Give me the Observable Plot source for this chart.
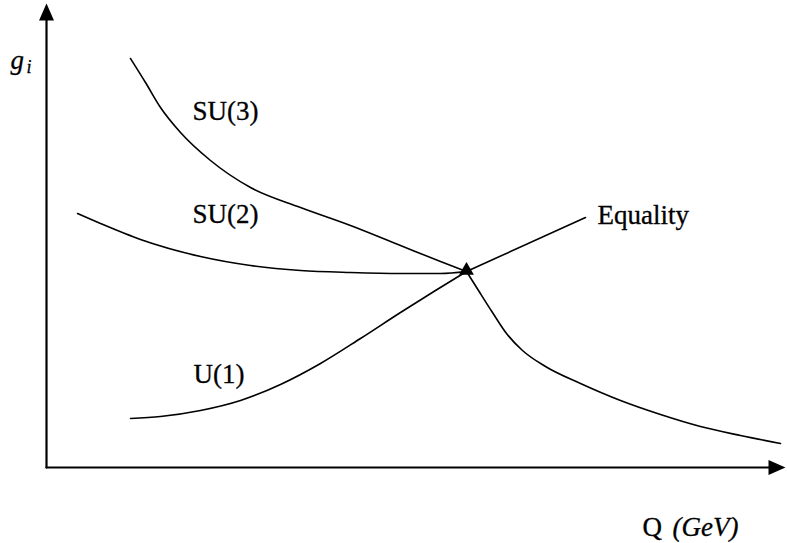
<!DOCTYPE html>
<html>
<head>
<meta charset="utf-8">
<script src="https://cdn.jsdelivr.net/npm/d3@7"></script>
<script src="https://cdn.jsdelivr.net/npm/@observablehq/plot@0.6"></script>
<style>
  html, body { margin: 0; padding: 0; background: #fff; }
  #chart svg { display: block; }
</style>
</head>
<body>
<div id="chart"></div>
<script>
// Values (arbitrary units; origin at the axes' corner)
const su3X = [84, 99, 114, 134, 164, 204, 254, 304, 354, 394, 420];
const su3Y = [409, 385, 360, 335, 307, 280, 260, 242, 222, 206, 196];

const su2X = [31, 54, 94, 154, 204, 254, 304, 354, 394, 420];
const su2Y = [254, 244, 228, 211, 202, 197, 195, 194, 194, 196];

const u1X = [84, 114, 154, 194, 234, 274, 314, 354, 389, 420];
const u1Y = [49, 51, 57, 67, 83, 104, 129, 155, 177, 196];

const unifiedX = [420, 432, 446, 460, 476, 499, 534, 574, 614, 654, 694, 734];
const unifiedY = [196, 177, 155, 134, 117, 101, 84, 67, 53, 41, 32, 24];

const equalityX = [420, 539];
const equalityY = [196, 250];
const meetX = [420];
const meetY = [197];

const axisEndX = 739;   // x-axis arrow tip
const axisEndY = 464;   // y-axis arrow tip

const labelText = ["SU(3)", "SU(2)", "U(1)", "Equality"];
const labelX = [146, 146, 147, 551];
const labelY = [348, 245, 85, 244];

const toPts = (xs, ys) => xs.map((x, i) => ({x, y: ys[i]}));

const serif = "Liberation Serif";

// arrowhead symbol: tip at the origin, pointing up
const arrowHead = {
  draw(ctx) {
    ctx.moveTo(0, 0);
    ctx.lineTo(-7.5, 17);
    ctx.lineTo(7.5, 17);
    ctx.closePath();
  }
};

const textOpts = {x: "x", y: "y", text: "t", textAnchor: "start", lineAnchor: "bottom",
  fontFamily: serif, fill: "black", stroke: "black", strokeWidth: 0.3};

const chart = Plot.plot({
  width: 787,
  height: 543,
  margin: 0,
  x: {domain: [-46, 741], range: [0, 787], axis: null},
  y: {domain: [-76, 467], range: [543, 0], axis: null},
  marks: [
    // axes
    Plot.line(toPts([0, 0], [0, axisEndY - 10]), {x: "x", y: "y", stroke: "black", strokeWidth: 2.2}),
    Plot.line(toPts([0, axisEndX - 10], [0, 0]), {x: "x", y: "y", stroke: "black", strokeWidth: 2.2}),
    Plot.dot([{x: 0, y: axisEndY}], {x: "x", y: "y", symbol: arrowHead, fill: "black", stroke: "none"}),
    Plot.dot([{x: axisEndX, y: 0}], {x: "x", y: "y", symbol: arrowHead, fill: "black", stroke: "none", rotate: 90}),
    // curves
    Plot.line(toPts(su3X, su3Y), {x: "x", y: "y", curve: "monotone-x", stroke: "black", strokeWidth: 1.6}),
    Plot.line(toPts(su2X, su2Y), {x: "x", y: "y", curve: "monotone-x", stroke: "black", strokeWidth: 1.6}),
    Plot.line(toPts(u1X, u1Y), {x: "x", y: "y", curve: "monotone-x", stroke: "black", strokeWidth: 1.6}),
    Plot.line(toPts(unifiedX, unifiedY), {x: "x", y: "y", curve: "monotone-x", stroke: "black", strokeWidth: 1.6}),
    Plot.line(toPts(equalityX, equalityY), {x: "x", y: "y", stroke: "black", strokeWidth: 1.6}),
    Plot.dot(toPts(meetX, meetY), {x: "x", y: "y", symbol: "triangle", r: 5.5, fill: "black", stroke: "none"}),
    // labels
    Plot.text(labelText.map((t, i) => ({t, x: labelX[i], y: labelY[i]})), {...textOpts, fontSize: 27}),
    Plot.text([{t: "Q", x: 596, y: -68}], {...textOpts, fontSize: 27}),
    Plot.text([{t: "(GeV)", x: 626, y: -68}], {...textOpts, fontSize: 27, fontStyle: "italic"}),
    Plot.text([{t: "g", x: -36, y: 399}], {...textOpts, fontSize: 27, fontStyle: "italic"}),
    Plot.text([{t: "i", x: -20, y: 395}], {...textOpts, fontSize: 18, fontStyle: "italic"})
  ]
});
document.getElementById("chart").appendChild(chart);
</script>
</body>
</html>
